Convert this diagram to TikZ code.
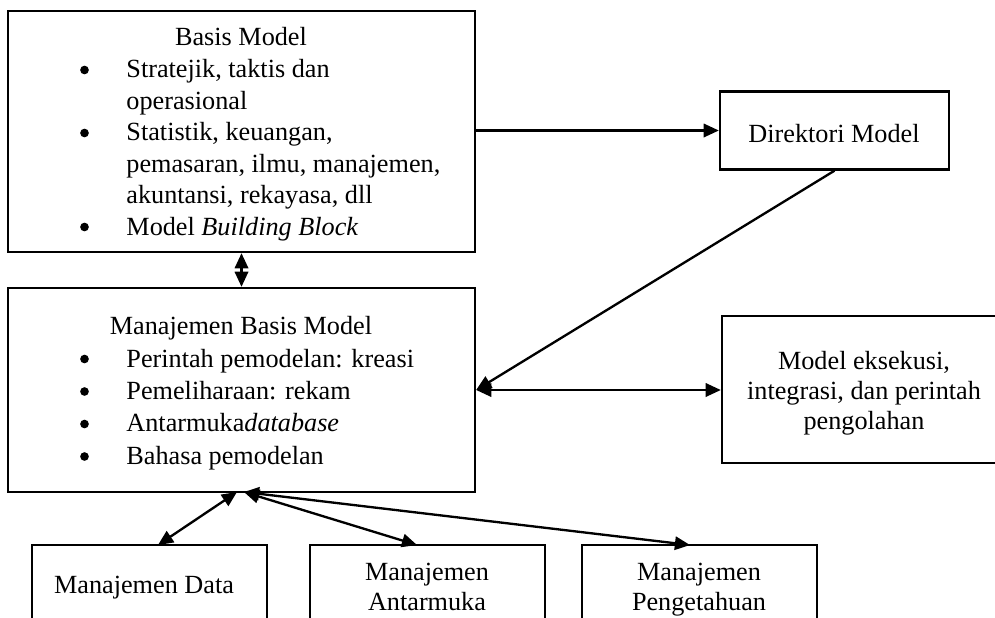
\documentclass[tikz,border=0pt]{standalone}
\usepackage{fontspec}
\setmainfont{Liberation Serif}
\usetikzlibrary{arrows.meta}
\begin{document}
\begin{tikzpicture}[x=0.45pt,y=-0.45pt,
  box/.style={draw,line width=1.05pt,fill=white,inner sep=0pt},
  txt/.style={inner sep=0pt,font=\fontsize{11.8}{14.2}\selectfont},
  txtb/.style={inner sep=0pt,font=\fontsize{11.8}{14.6}\selectfont},
  txtc/.style={inner sep=0pt,font=\fontsize{11.8}{13.7}\selectfont},
  bul/.style={fill=black},
  tip/.tip={Triangle[length=6.8pt,width=6pt]},
  arr/.style={line width=1.05pt,-tip},
  darr/.style={line width=1.05pt,tip-tip}]
\useasboundingbox (0,0) rectangle (995,617);
\clip (0,0) rectangle (995,617);
\fill[white] (0,0) rectangle (995,617);

% boxes
\node[box,minimum width={467*0.45pt},minimum height={241*0.45pt}] (basis) at (241.5,131.5) {};
\node[box,minimum width={467*0.45pt},minimum height={204*0.45pt}] (mbm) at (241.5,390) {};
\node[box,minimum width={229*0.45pt},minimum height={78*0.45pt}] (dir) at (834.5,130.5) {};
\node[box,minimum width={283*0.45pt},minimum height={147*0.45pt}] (exe) at (863.5,389.5) {};
\node[box,minimum width={235*0.45pt},minimum height={100*0.45pt}] (data) at (149.5,595) {};
\node[box,minimum width={235*0.45pt},minimum height={100*0.45pt}] (ant) at (427.5,595) {};
\node[box,minimum width={235*0.45pt},minimum height={100*0.45pt}] (pen) at (699.5,595) {};

% texts
\node[txt,anchor=base] (basisT) at (241,46) {Basis Model};
\node[txt,anchor=base west] (basisL) at (126,77.5) {\begin{tabular}[t]{@{}l@{}}
Stratejik, taktis dan\\
operasional\\
Statistik, keuangan,\\
pemasaran, ilmu, manajemen,\\
akuntansi, rekayasa, dll\\
Model \textit{Building Block}
\end{tabular}};

\node[txtb,anchor=base] (mbmT) at (241,334) {Manajemen Basis Model};
\node[txtb,anchor=base west] (mbmL) at (126,367) {\begin{tabular}[t]{@{}l@{}}
Perintah pemodelan: kreasi\\
Pemeliharaan: rekam\\
Antarmuka\textit{database}\\
Bahasa pemodelan
\end{tabular}};

% bullets
\foreach \y in {70,133,227,359,391.5,424,456.5}
  \fill[bul] (84.5,\y) circle[radius=1.95pt];

\node[txt,anchor=base] (dirT) at (834,142) {Direktori Model};
\node[txtc,anchor=base] (exeT) at (864,369) {\begin{tabular}[t]{@{}c@{}}Model eksekusi,\\ integrasi, dan perintah\\ pengolahan\end{tabular}};
\node[txt,anchor=base] (dataT) at (144,593) {Manajemen Data};
\node[txtc,anchor=base] (antT) at (427,580) {\begin{tabular}[t]{@{}c@{}}Manajemen\\ Antarmuka\end{tabular}};
\node[txtc,anchor=base] (penT) at (699,580) {\begin{tabular}[t]{@{}c@{}}Manajemen\\ Pengetahuan\end{tabular}};

% connectors
\coordinate (mbmA) at (237,492);
\coordinate (mbmB) at (244,492);
\coordinate (dataIn) at (158,545);
\coordinate (antIn) at (417,545);
\coordinate (penIn) at (690,545);

\draw[arr] (basis.east |- dir.west) -- (dir.west);
\draw[darr] (basis.south) -- (mbm.north);
\draw[arr] (dir.south) -- (mbm.east);
\draw[darr] (mbm.east) -- (mbm.east -| exe.west);
\draw[darr] (mbmA) -- (dataIn);
\draw[darr] (mbmB) -- (antIn);
\draw[darr] (mbmB) -- (penIn);
\end{tikzpicture}
\end{document}
